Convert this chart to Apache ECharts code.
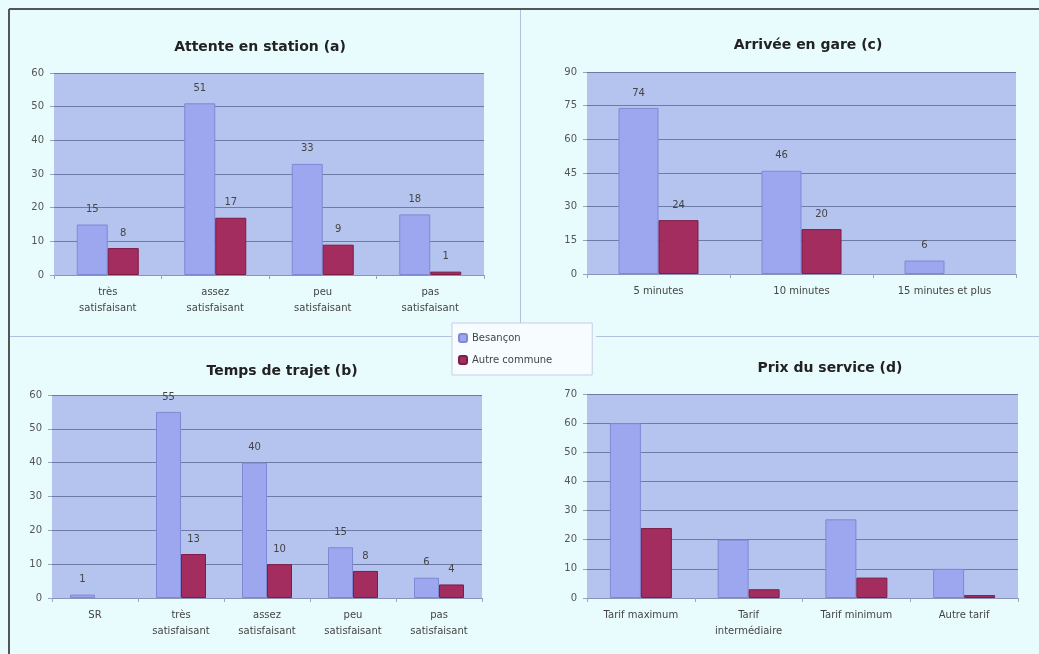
<!DOCTYPE html>
<html><head><meta charset="utf-8">
<script src="https://cdn.jsdelivr.net/npm/echarts@6/dist/echarts.min.js"></script>
<style>html,body{margin:0;padding:0;background:#e9fcfd}#c{width:1039px;height:654px}</style>
</head><body><div id="c"></div>
<script>
// ---- data ----
const seriesNames = ['Besançon', 'Autre commune'];

const titleA = 'Attente en station (a)';
const catsA = ['très\nsatisfaisant', 'assez\nsatisfaisant', 'peu\nsatisfaisant', 'pas\nsatisfaisant'];
const besA = [15, 51, 33, 18];
const autA = [8, 17, 9, 1];

const titleC = 'Arrivée en gare (c)';
const catsC = ['5 minutes', '10 minutes', '15 minutes et plus'];
const besC = [74, 46, 6];
const autC = [24, 20, null];

const titleB = 'Temps de trajet (b)';
const catsB = ['SR', 'très\nsatisfaisant', 'assez\nsatisfaisant', 'peu\nsatisfaisant', 'pas\nsatisfaisant'];
const besB = [1, 55, 40, 15, 6];
const autB = [null, 13, 10, 8, 4];

const titleD = 'Prix du service (d)';
const catsD = ['Tarif maximum', 'Tarif\nintermédiaire', 'Tarif minimum', 'Autre tarif'];
const besD = [60, 20, 27, 10];
const autD = [24, 3, 7, 1];

// ---- styling ----
const FONT = 'DejaVu Sans';
const BLUE = '#9ca7ef', BLUE_BORDER = '#7d89d2';
const RED = '#a32d5e', RED_BORDER = '#7d1c45';

const panels = [
  {title: titleA, cats: catsA, bes: besA, aut: autA, max: 60, interval: 10, grid: {left: 54, top: 73, width: 430, height: 202}, tx: 255, ty: 35, bw: 31, labels: true},
  {title: titleC, cats: catsC, bes: besC, aut: autC, max: 90, interval: 15, grid: {left: 587, top: 72, width: 429, height: 202}, tx: 803, ty: 33, bw: 40, labels: true},
  {title: titleB, cats: catsB, bes: besB, aut: autB, max: 60, interval: 10, grid: {left: 52, top: 395, width: 430, height: 203}, tx: 277, ty: 359, bw: 25, labels: true},
  {title: titleD, cats: catsD, bes: besD, aut: autD, max: 70, interval: 10, grid: {left: 587, top: 394, width: 431, height: 204}, tx: 825, ty: 356, bw: 31, labels: false}
];

const option = {
  backgroundColor: '#e9fcfd',
  animation: false,
  textStyle: {fontFamily: FONT},
  title: panels.map(p => ({
    text: p.title, left: p.tx, top: p.ty, textAlign: 'center',
    textStyle: {fontFamily: FONT, fontSize: 14, fontWeight: 'bold', color: '#222'}
  })),
  legend: {
    data: seriesNames, orient: 'vertical', left: 452, top: 323,
    itemWidth: 8, itemHeight: 8, itemGap: 12, padding: [10, 40, 10, 6],
    backgroundColor: '#f6fcff', borderColor: '#c9cde6', borderWidth: 1,
    textStyle: {fontFamily: FONT, fontSize: 10, color: '#444'}
  },
  grid: panels.map(p => Object.assign({backgroundColor: '#b5c4ef', show: true, borderWidth: 0}, p.grid)),
  xAxis: panels.map((p, i) => ({
    type: 'category', gridIndex: i, data: p.cats,
    axisLine: {lineStyle: {color: '#8a93b8'}},
    axisTick: {show: true, length: 4, lineStyle: {color: '#9aa2c0'}},
    axisLabel: {fontFamily: FONT, fontSize: 10, color: '#444', lineHeight: 16, margin: 9, interval: 0}
  })),
  yAxis: panels.map((p, i) => ({
    type: 'value', gridIndex: i, min: 0, max: p.max, interval: p.interval,
    axisLine: {show: false},
    axisTick: {show: true, length: 4, lineStyle: {color: '#9aa2c0'}},
    splitLine: {lineStyle: {color: '#6f7aa6', width: 1}},
    axisLabel: {fontFamily: FONT, fontSize: 10, color: '#555', margin: 10}
  })),
  series: [],
  graphic: [
    {type: 'line', shape: {x1: 9, y1: 9, x2: 1039, y2: 9}, style: {stroke: '#555', lineWidth: 2}},
    {type: 'line', shape: {x1: 9, y1: 9, x2: 9, y2: 654}, style: {stroke: '#555', lineWidth: 2}},
    {type: 'line', shape: {x1: 520.5, y1: 10, x2: 520.5, y2: 323}, style: {stroke: '#b4c0dc', lineWidth: 1}},
    {type: 'line', shape: {x1: 10, y1: 336.5, x2: 452, y2: 336.5}, style: {stroke: '#b4c0dc', lineWidth: 1}},
    {type: 'line', shape: {x1: 596, y1: 336.5, x2: 1039, y2: 336.5}, style: {stroke: '#b4c0dc', lineWidth: 1}}
  ]
};

panels.forEach((p, i) => {
  const lbl = {show: p.labels, position: 'top', distance: 10, fontFamily: FONT, fontSize: 10, color: '#444'};
  option.series.push({
    name: seriesNames[0], type: 'bar', xAxisIndex: i, yAxisIndex: i, data: p.bes,
    barWidth: p.bw, barGap: '0%',
    itemStyle: {color: BLUE, borderColor: BLUE_BORDER, borderWidth: 1},
    label: lbl
  });
  option.series.push({
    name: seriesNames[1], type: 'bar', xAxisIndex: i, yAxisIndex: i, data: p.aut,
    barWidth: p.bw, barGap: '0%',
    itemStyle: {color: RED, borderColor: RED_BORDER, borderWidth: 1},
    label: lbl
  });
});

const chart = echarts.init(document.getElementById('c'), null, {renderer: 'canvas'});
chart.setOption(option);
</script></body></html>
